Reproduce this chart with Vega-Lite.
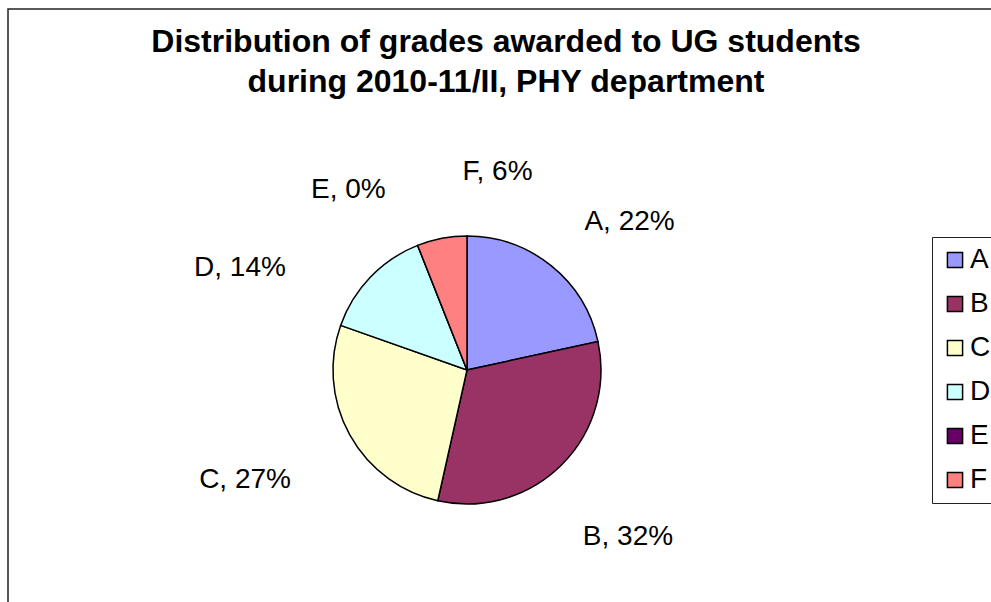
{
  "$schema": "https://vega.github.io/schema/vega-lite/v6.json",
  "width": 996,
  "height": 600,
  "padding": {"left": 8, "top": 9, "right": 0, "bottom": 0},
  "background": "white",
  "view": {"stroke": "#222222", "strokeWidth": 1.5, "fill": "white"},
  "config": {
    "view": {"stroke": "#222222", "strokeWidth": 1.5},
    "font": "Liberation Sans"
  },
  "title": {
    "text": ["Distribution of grades awarded to UG students", "during 2010-11/II, PHY department"],
    "font": "Liberation Sans",
    "fontSize": 32,
    "fontWeight": "bold",
    "color": "black",
    "anchor": "middle",
    "baseline": "top",
    "lineHeight": 40,
    "offset": -90
  },
  "data": {
    "values": [
      {"grade": "A", "pct": 21.6, "label": "A, 22%"},
      {"grade": "B", "pct": 31.9, "label": "B, 32%"},
      {"grade": "C", "pct": 26.9, "label": "C, 27%"},
      {"grade": "D", "pct": 13.6, "label": "D, 14%"},
      {"grade": "E", "pct": 0, "label": "E, 0%"},
      {"grade": "F", "pct": 6.0, "label": "F, 6%"}
    ]
  },
  "encoding": {
    "theta": {"field": "pct", "type": "quantitative", "stack": true},
    "order": {"field": "grade", "type": "nominal"}
  },
  "layer": [
    {
      "mark": {"type": "arc", "outerRadius": 134, "x": 459, "y": 361, "stroke": "black", "strokeWidth": 1.5},
      "encoding": {
        "color": {
          "field": "grade", "type": "nominal",
          "scale": {"domain": ["A", "B", "C", "D", "E", "F"], "range": ["#9999FF", "#993366", "#FFFFCC", "#CCFFFF", "#660066", "#FF8080"]},
          "legend": {
            "title": null,
            "orient": "none",
            "legendX": 924,
            "legendY": 228,
            "symbolType": "square",
            "symbolSize": 230,
            "symbolStrokeColor": "black",
            "symbolStrokeWidth": 1.5,
            "symbolOpacity": 1,
            "labelFont": "Liberation Sans",
            "labelFontSize": 28,
            "labelColor": "black",
            "labelOffset": 1,
            "rowPadding": 16,
            "strokeColor": "#222222",
            "padding": 9,
            "fillColor": "white"
          }
        }
      }
    },
    {
      "mark": {"type": "text", "radius": 200, "x": 459, "y": 361, "fontSize": 28, "font": "Liberation Sans", "color": "black", "align": "center", "baseline": "middle", "dx": 37, "dy": 8},
      "encoding": {"text": {"condition": {"test": "datum.grade === 'A'", "field": "label"}, "value": ""}}
    },
    {
      "mark": {"type": "text", "radius": 200, "x": 459, "y": 361, "fontSize": 28, "font": "Liberation Sans", "color": "black", "align": "center", "baseline": "middle", "dx": 20, "dy": 25},
      "encoding": {"text": {"condition": {"test": "datum.grade === 'B'", "field": "label"}, "value": ""}}
    },
    {
      "mark": {"type": "text", "radius": 200, "x": 459, "y": 361, "fontSize": 28, "font": "Liberation Sans", "color": "black", "align": "center", "baseline": "middle", "dx": -47, "dy": 13},
      "encoding": {"text": {"condition": {"test": "datum.grade === 'C'", "field": "label"}, "value": ""}}
    },
    {
      "mark": {"type": "text", "radius": 200, "x": 459, "y": 361, "fontSize": 28, "font": "Liberation Sans", "color": "black", "align": "center", "baseline": "middle", "dx": -83, "dy": 37},
      "encoding": {"text": {"condition": {"test": "datum.grade === 'D'", "field": "label"}, "value": ""}}
    },
    {
      "mark": {"type": "text", "radius": 200, "x": 459, "y": 361, "fontSize": 28, "font": "Liberation Sans", "color": "black", "align": "center", "baseline": "middle", "dx": -45, "dy": 6},
      "encoding": {"text": {"condition": {"test": "datum.grade === 'E'", "field": "label"}, "value": ""}}
    },
    {
      "mark": {"type": "text", "radius": 200, "x": 459, "y": 361, "fontSize": 28, "font": "Liberation Sans", "color": "black", "align": "center", "baseline": "middle", "dx": 68, "dy": -2},
      "encoding": {"text": {"condition": {"test": "datum.grade === 'F'", "field": "label"}, "value": ""}}
    }
  ]
}
